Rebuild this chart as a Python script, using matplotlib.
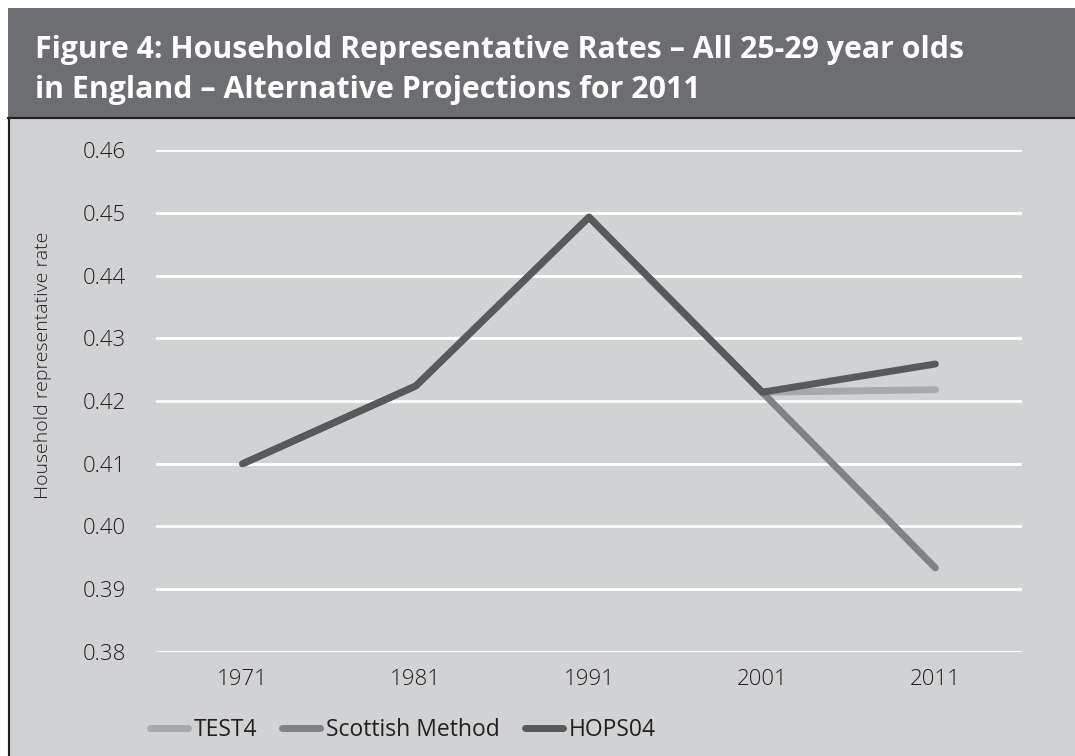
import matplotlib
matplotlib.use("Agg")
import matplotlib.pyplot as plt
from matplotlib.patches import Rectangle
from matplotlib.lines import Line2D

years = ["1971", "1981", "1991", "2001", "2011"]
test4 = [0.4100, 0.4224, 0.4493, 0.4214, 0.4218]
scottish = [0.4100, 0.4224, 0.4493, 0.4214, 0.3934]
hops04 = [0.4100, 0.4224, 0.4493, 0.4214, 0.4259]
series_names = ["TEST4", "Scottish Method", "HOPS04"]
yticks = [0.38, 0.39, 0.40, 0.41, 0.42, 0.43, 0.44, 0.45, 0.46]

title_font = "Open Sans"
body_font = "Open Sans"

W, H = 1075, 756
fig = plt.figure(figsize=(W / 100, H / 100), dpi=100)
fig.patch.set_facecolor("white")

def fx(x):
    return x / W

def fy(y):
    return 1 - y / H

# title band and panel
fig.patches.append(Rectangle((fx(8), fy(118)), fx(W - 8), 110 / H, transform=fig.transFigure,
                             facecolor="#6d6e71", edgecolor="none", zorder=-10))
fig.patches.append(Rectangle((fx(8), 0), fx(W - 8), fy(118), transform=fig.transFigure,
                             facecolor="#d1d2d4", edgecolor="none", zorder=-10))
fig.lines.append(Line2D([fx(9), fx(9)], [0, fy(118)], transform=fig.transFigure, color="#231f20", lw=1.5, zorder=-5))
fig.lines.append(Line2D([fx(8), 1], [fy(118), fy(118)], transform=fig.transFigure, color="#231f20", lw=1.5, zorder=-5))

fig.text(fx(35), fy(58), "Figure 4: Household Representative Rates \u2013 All 25-29 year olds",
         color="white", fontsize=21.8, fontweight="bold", family=title_font, va="baseline", ha="left")
fig.text(fx(35), fy(98), "in England \u2013 Alternative Projections for 2011",
         color="white", fontsize=21.8, fontweight="bold", family=title_font, va="baseline", ha="left")

ax = fig.add_axes([fx(156), fy(652), fx(1022 - 156), (652 - 150) / H])
ax.set_zorder(1)
ax.set_facecolor("none")
x = list(range(len(years)))
ax.plot(x, test4, color="#a7a9ac", lw=5, solid_capstyle="round", solid_joinstyle="round", label=series_names[0], zorder=3)
ax.plot(x, scottish, color="#808285", lw=5, solid_capstyle="round", solid_joinstyle="round", label=series_names[1], zorder=4)
ax.plot(x, hops04, color="#58595b", lw=5, solid_capstyle="round", solid_joinstyle="round", label=series_names[2], zorder=5)

ax.set_xlim(-0.5, len(years) - 0.5)
ax.set_ylim(0.38, 0.46)
ax.set_yticks(yticks)
ax.set_yticklabels([f"{v:.2f}" for v in yticks])
ax.set_xticks(x)
ax.set_xticklabels(years)
ax.grid(axis="y", color="white", lw=2)
ax.set_axisbelow(True)
for s in ax.spines.values():
    s.set_visible(False)
ax.tick_params(length=0, labelsize=16, colors="#231f20")
ax.tick_params(axis="y", pad=21.6)
ax.tick_params(axis="x", pad=12)
for lab in ax.get_xticklabels() + ax.get_yticklabels():
    lab.set_family(body_font)
    lab.set_fontweight("light")

fig.text(fx(43), fy(365), "Household representative rate", rotation=90, ha="center", va="center",
         fontsize=14, family=body_font, fontweight="light", color="#231f20")

handles, labels = ax.get_legend_handles_labels()
leg = fig.legend(handles, labels, loc="center left", bbox_to_anchor=(fx(150), fy(730)), ncol=3,
                 frameon=False, handlelength=1.65, handletextpad=0.25, columnspacing=1.1,
                 borderpad=0, borderaxespad=0,
                 prop={"family": body_font, "size": 16.5})
for t in leg.get_texts():
    t.set_color("#231f20")

fig.savefig("out.png", dpi=100, facecolor="white")
